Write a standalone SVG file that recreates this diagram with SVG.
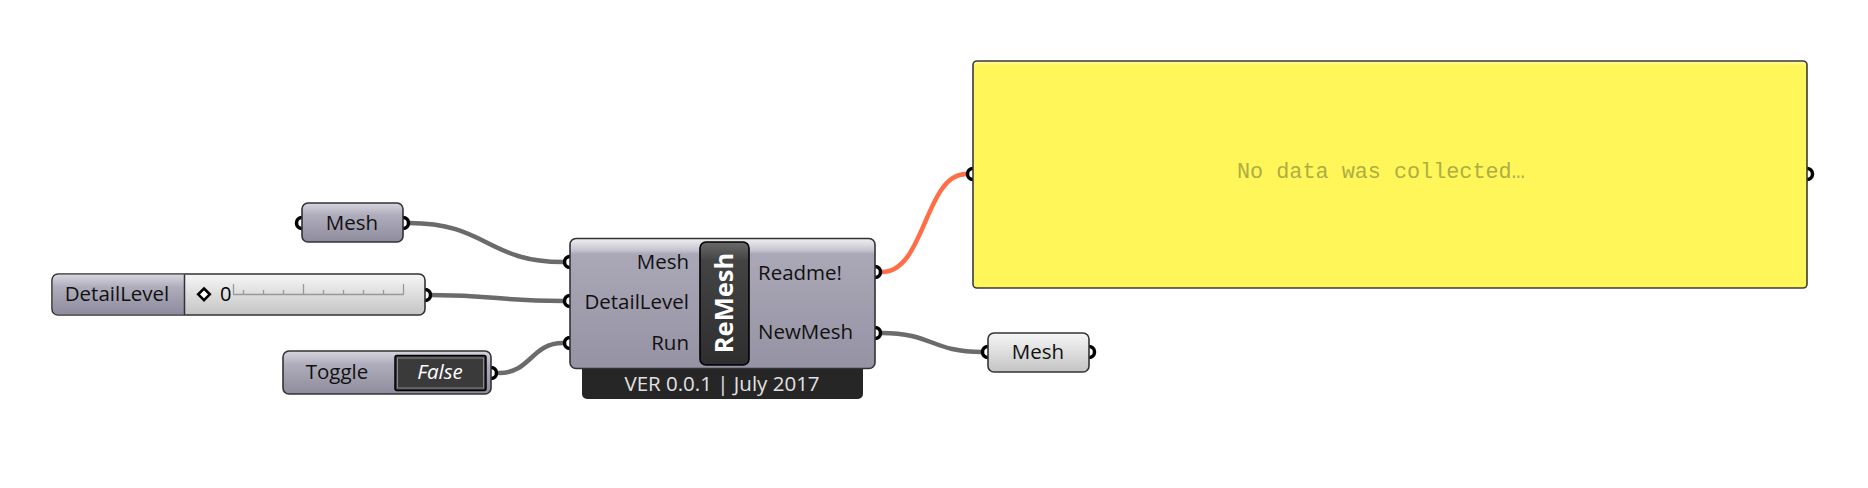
<svg xmlns="http://www.w3.org/2000/svg" width="1868" height="488" viewBox="0 0 1868 488">
<defs>
<linearGradient id="gParam" x1="0" y1="0" x2="0" y2="1">
<stop offset="0" stop-color="#d6d6de"/><stop offset="0.3" stop-color="#b0aebd"/><stop offset="1" stop-color="#8e8c9c"/>
</linearGradient>
<linearGradient id="gLight" x1="0" y1="0" x2="0" y2="1">
<stop offset="0" stop-color="#f6f6f6"/><stop offset="1" stop-color="#c4c4c4"/>
</linearGradient>
<linearGradient id="gComp" x1="0" y1="0" x2="0" y2="1">
<stop offset="0" stop-color="#f0f0f2"/><stop offset="0.09" stop-color="#c6c5cf"/><stop offset="0.12" stop-color="#aaa8b7"/><stop offset="1" stop-color="#9593a3"/>
</linearGradient>
<linearGradient id="gDark" x1="0" y1="0" x2="0" y2="1">
<stop offset="0" stop-color="#6a6a6a"/><stop offset="0.15" stop-color="#444"/><stop offset="1" stop-color="#2e2e2e"/>
</linearGradient>
<linearGradient id="gPanel" x1="0" y1="0" x2="0" y2="1">
<stop offset="0" stop-color="#fffbb0"/><stop offset="0.02" stop-color="#fff75a"/><stop offset="1" stop-color="#fff65a"/>
</linearGradient>
</defs>
<style>
.wire{fill:none;stroke:#6b6b6b;stroke-width:4.5;stroke-linecap:round}
.wireo{fill:none;stroke:#ff6e46;stroke-width:4.5;stroke-linecap:round}
.port{fill:#fff;stroke:#000;stroke-width:3.5}
.box{stroke:#333;stroke-width:1.6}
.t{font-family:"Open Sans","Noto Sans",sans-serif;font-size:20.5px;fill:#111}
.tc{text-anchor:middle}
.tr{text-anchor:end}
</style>

<g id="connectors">
<path class="wire" d="M 409 223 C 487 223, 487 262, 563 262"/>
<path class="wire" d="M 430 295 C 497 295, 497 301, 563 301"/>
<path class="wire" d="M 499 373 C 531 373, 531 343, 563 343"/>
<path class="wireo" d="M 882 272 C 925 272, 925 174, 966 174"/>
<path class="wire" d="M 882 333 C 932 333, 932 352, 982 352"/>
</g>

<g id="param-mesh-in">
<circle class="port" cx="302" cy="223" r="5.5"/>
<circle class="port" cx="403" cy="223" r="5.5"/>
<rect class="box" x="302" y="203" width="101" height="39" rx="6" fill="url(#gParam)"/>
<text class="t tc" x="352" y="230">Mesh</text>
</g>

<g id="slider-detaillevel">
<circle class="port" cx="425" cy="295" r="5.5"/>
<rect class="box" x="52" y="274" width="373" height="41" rx="6" fill="url(#gLight)"/>
<path d="M 58 274.8 H 184 V 314.2 H 58 A 5.2 5.2 0 0 1 52.8 309 V 280 A 5.2 5.2 0 0 1 58 274.8 Z" fill="url(#gParam)"/>
<line x1="184.5" y1="274.5" x2="184.5" y2="315" stroke="#333" stroke-width="1.5"/>
<text class="t tc" x="117" y="301">DetailLevel</text>
<g stroke="#999" stroke-width="1.3">
<line x1="233" y1="294.5" x2="404" y2="294.5"/>
<line x1="233.5" y1="284" x2="233.5" y2="294"/>
<line x1="243.5" y1="290" x2="243.5" y2="294"/>
<line x1="263.5" y1="290" x2="263.5" y2="294"/>
<line x1="283.5" y1="290" x2="283.5" y2="294"/>
<line x1="303.5" y1="284" x2="303.5" y2="294"/>
<line x1="323.5" y1="290" x2="323.5" y2="294"/>
<line x1="343.5" y1="290" x2="343.5" y2="294"/>
<line x1="363.5" y1="290" x2="363.5" y2="294"/>
<line x1="383.5" y1="290" x2="383.5" y2="294"/>
<line x1="403.5" y1="284" x2="403.5" y2="294"/>
</g>
<path d="M 204 288.5 L 209.8 294.3 L 204 300.1 L 198.2 294.3 Z" fill="#fff" stroke="#000" stroke-width="2.6"/>
<text class="t" x="220" y="300.5" style="font-size:20px;fill:#000">0</text>
</g>

<g id="toggle">
<circle class="port" cx="491" cy="373" r="5.5"/>
<rect class="box" x="283" y="351" width="208" height="43" rx="6" fill="url(#gParam)"/>
<rect x="395" y="355.5" width="91" height="35" rx="2" fill="#3a3a3a" stroke="#000" stroke-width="1.5"/>
<rect x="397.5" y="358" width="86" height="30" fill="none" stroke="#8a8a8a" stroke-width="1"/>
<text class="t tc" x="337" y="379">Toggle</text>
<text class="t tc" x="440" y="379" style="fill:#fff;font-style:italic">False</text>
</g>

<g id="remesh">
<rect x="582" y="350" width="281" height="49" rx="5" fill="#262626"/>
<circle class="port" cx="570" cy="262" r="5.5"/>
<circle class="port" cx="570" cy="301" r="5.5"/>
<circle class="port" cx="570" cy="343" r="5.5"/>
<circle class="port" cx="875" cy="272" r="5.5"/>
<circle class="port" cx="875" cy="333" r="5.5"/>
<rect class="box" x="570" y="238.5" width="305" height="130" rx="6" fill="url(#gComp)"/>
<rect x="700" y="242" width="49" height="123" rx="6" fill="url(#gDark)" stroke="#000" stroke-width="1.6"/>
<text class="t" transform="translate(733,303) rotate(-90)" text-anchor="middle" style="font-size:25.5px;font-weight:bold;fill:#fff">ReMesh</text>
<text class="t tr" x="689" y="269">Mesh</text>
<text class="t tr" x="689" y="309">DetailLevel</text>
<text class="t tr" x="689" y="350">Run</text>
<text class="t" x="758" y="280">Readme!</text>
<text class="t" x="758" y="339">NewMesh</text>
<text class="t tc" x="722" y="391" style="fill:#e2e2e2">VER 0.0.1 | July 2017</text>
</g>

<g id="panel">
<circle class="port" cx="973" cy="174" r="5.5"/>
<circle class="port" cx="1807" cy="174" r="5.5"/>
<rect x="973" y="61" width="834" height="227" rx="4" fill="url(#gPanel)" stroke="#3a3a3a" stroke-width="1.6"/>
<text x="1237" y="178" style="font-family:'Liberation Mono','Courier New',monospace;font-size:21.8px;fill:#adae42">No data was collected…</text>
</g>

<g id="param-mesh-out">
<circle class="port" cx="988" cy="352" r="5.5"/>
<circle class="port" cx="1089" cy="352" r="5.5"/>
<rect class="box" x="988" y="333" width="101" height="39" rx="6" fill="url(#gLight)"/>
<text class="t tc" x="1038" y="359">Mesh</text>
</g>
</svg>
